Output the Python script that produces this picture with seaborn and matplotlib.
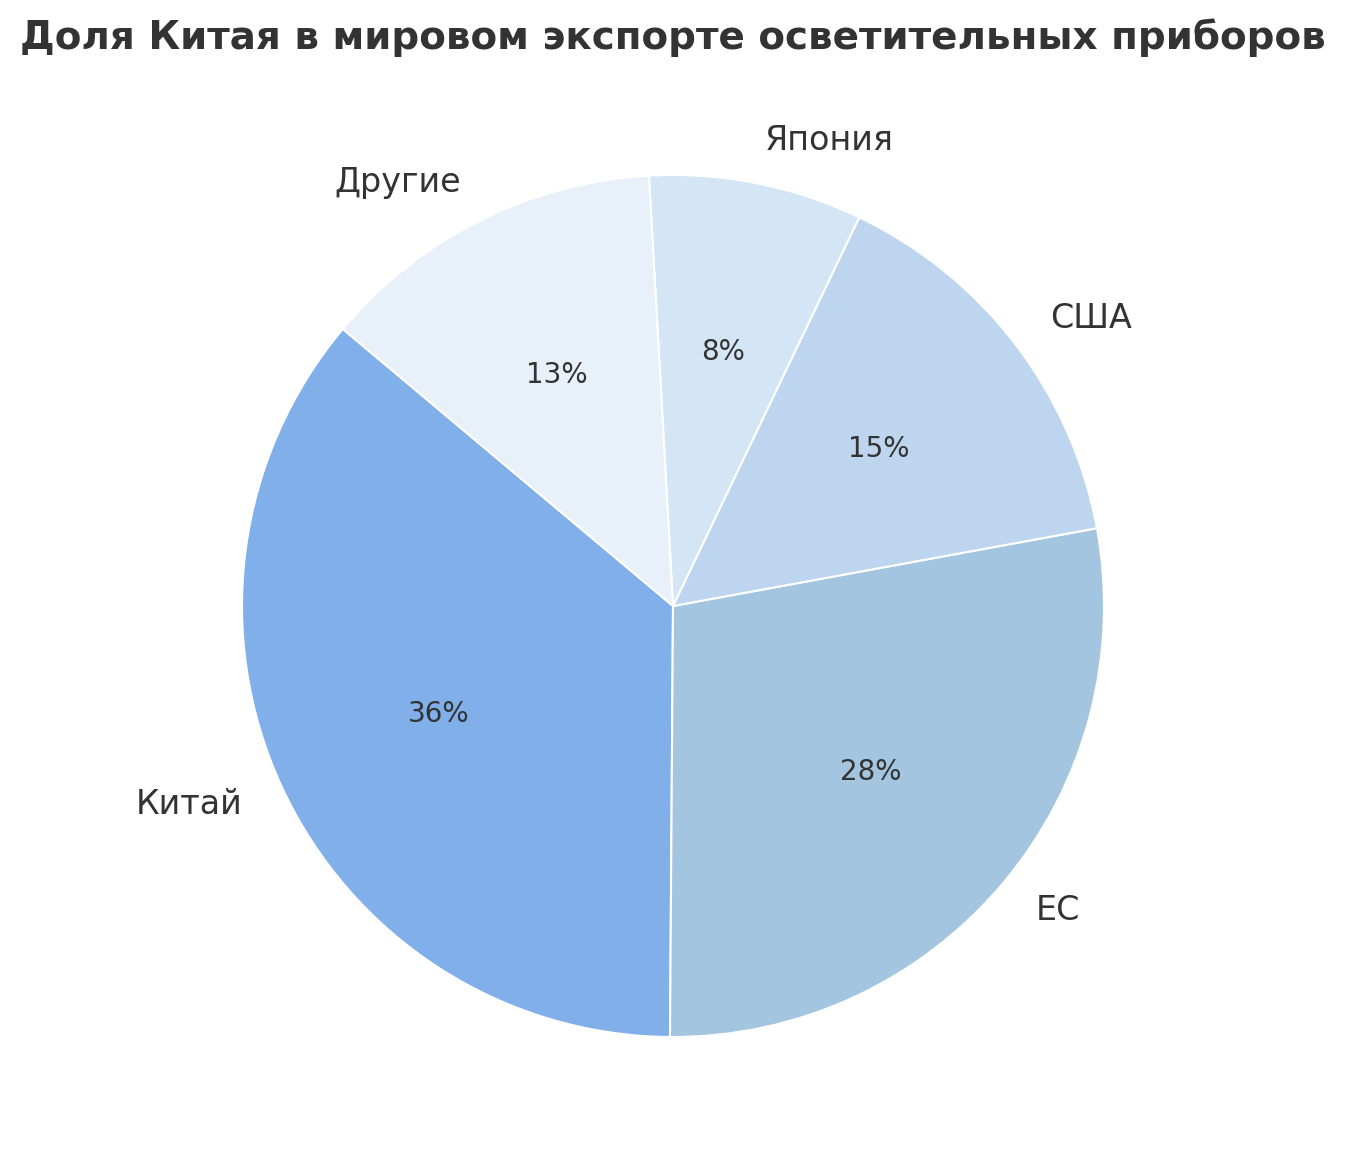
import matplotlib
matplotlib.use("Agg")
import matplotlib.pyplot as plt
import seaborn as sns

# data
regions = ["Китай", "ЕС", "США", "Япония", "Другие"]
shares = [36, 28, 15, 8, 13]
slice_colors = ["#80AFEA", "#A3C5E0", "#BED5EF", "#D4E5F5", "#E8F0F9"]

sns.set_theme(style="white")
plt.rcParams["font.family"] = ["DejaVu Sans"]
text_color = "#333333"

fig = plt.figure(figsize=(13.45, 11.65), dpi=100)
# square box around the pie: center (673, 606) px, radius ~431 px
ax = fig.add_axes([242 / 1345, (1165 - 1037) / 1165, 862 / 1345, 862 / 1165])

wedges, texts, autotexts = ax.pie(
    shares,
    labels=regions,
    colors=slice_colors,
    startangle=140,
    autopct="%1.0f%%",
    pctdistance=0.6,
    labeldistance=1.1,
    wedgeprops={"edgecolor": "white", "linewidth": 1.5},
    textprops={"color": text_color},
)
for t in texts:
    t.set_fontsize(24)
for t in autotexts:
    t.set_fontsize(20)

ax.set_xlim(-1, 1)
ax.set_ylim(-1, 1)
ax.set_aspect("equal")
ax.axis("off")

fig.text(0.5, 1 - 38 / 1165, "Доля Китая в мировом экспорте осветительных приборов",
         ha="center", va="center", fontsize=28, fontweight="bold", color=text_color)

fig.savefig("out.png", dpi=100)
